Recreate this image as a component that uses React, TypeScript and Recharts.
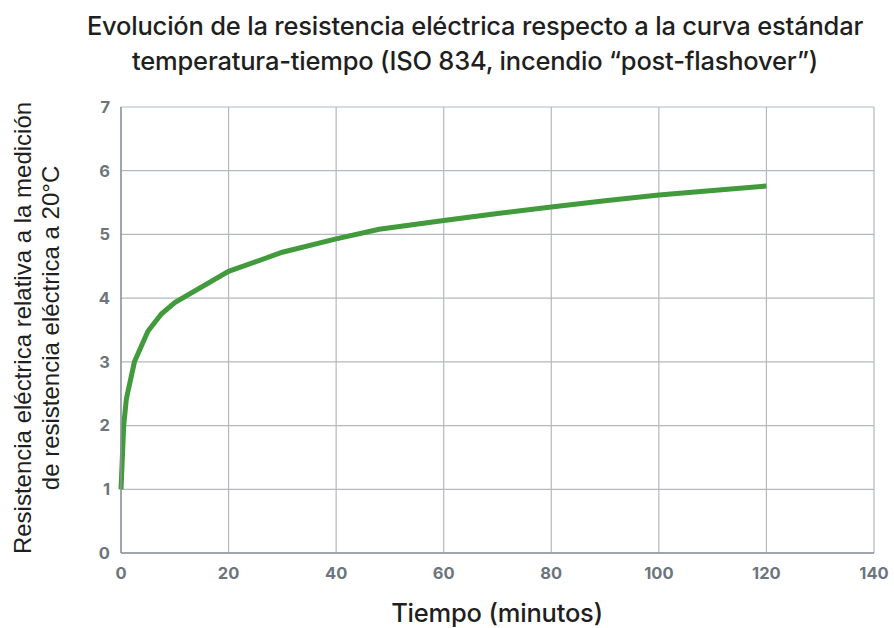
import { FC } from "react";
import {
  CartesianGrid,
  Line,
  LineChart,
  XAxis,
  YAxis,
} from "recharts";

// minutos desde el inicio del ensayo
const minutes = [0, 0.5, 1, 2.5, 5, 7.5, 10, 20, 30, 40, 48, 60, 70, 80, 90, 100, 110, 120];
// resistencia relativa a la medición a 20°C
const resistance = [1, 2, 2.42, 3.0, 3.48, 3.75, 3.93, 4.42, 4.72, 4.93, 5.08, 5.22, 5.33, 5.43, 5.53, 5.62, 5.69, 5.76];

const xTicks = [0, 20, 40, 60, 80, 100, 120, 140];
const yTicks = [0, 1, 2, 3, 4, 5, 6, 7];

const titleLines = [
  "Evolución de la resistencia eléctrica respecto a la curva estándar",
  "temperatura-tiempo (ISO 834, incendio “post-flashover”)",
];
const yLabelLines = [
  "Resistencia eléctrica relativa a la medición",
  "de resistencia eléctrica a 20°C",
];
const xLabel = "Tiempo (minutos)";

const data = minutes.map((t, i) => ({ t, r: resistance[i] }));

const tickStyle = {
  fill: "#6c757d",
  fontSize: 16.5,
  fontWeight: 700,
  fontFamily: "Inter, 'Noto Sans', sans-serif",
};

const App: FC = () => {
  return (
    <div style={{ position: "absolute", left: 0, top: 0, width: 894, height: 628, background: "#fff" }}>
      <LineChart
        width={894}
        height={628}
        data={data}
        margin={{ top: 107, right: 20, bottom: 45, left: 81 }}
      >
        <CartesianGrid stroke="#b3b9bf" strokeWidth={1.2} />
        <XAxis
          dataKey="t"
          type="number"
          domain={[0, 140]}
          ticks={xTicks}
          height={30}
          tickSize={0}
          tickMargin={14}
          tick={tickStyle}
          axisLine={{ stroke: "#8d959c", strokeWidth: 1.5 }}
          interval={0}
        />
        <YAxis
          type="number"
          domain={[0, 7]}
          ticks={yTicks}
          width={40}
          tickSize={0}
          tickMargin={11}
          tick={tickStyle}
          axisLine={{ stroke: "#8d959c", strokeWidth: 1.5 }}
          interval={0}
        />
        <Line
          dataKey="r"
          type="linear"
          stroke="#419a3b"
          strokeWidth={5}
          dot={false}
          isAnimationActive={false}
        />
      </LineChart>

      <div
        style={{
          position: "absolute",
          left: 0,
          top: 8,
          width: 950,
          textAlign: "center",
          fontFamily: "Inter, sans-serif",
          fontWeight: 500,
          fontSize: 25.5,
          lineHeight: "35px",
          color: "#1f1f1f",
          letterSpacing: -0.2,
        }}
      >
        {titleLines.map((l) => (
          <div key={l}>{l}</div>
        ))}
      </div>

      <svg
        width={80}
        height={628}
        style={{ position: "absolute", left: 0, top: 0 }}
      >
        {yLabelLines.map((l, i) => (
          <text
            key={l}
            transform={`translate(${31 + i * 28}, 328) rotate(-90)`}
            textAnchor="middle"
            fontFamily="'Liberation Sans', Arial, sans-serif"
            fontSize={24}
            fill="#1f1f1f"
          >
            {l}
          </text>
        ))}
      </svg>

      <div
        style={{
          position: "absolute",
          left: 0,
          width: 994,
          top: 600,
          height: 28,
          textAlign: "center",
          fontFamily: "Inter, sans-serif",
          fontWeight: 500,
          fontSize: 25.5,
          lineHeight: "26px",
          color: "#1f1f1f",
          letterSpacing: -0.2,
        }}
      >
        {xLabel}
      </div>
    </div>
  );
};

export default App;
